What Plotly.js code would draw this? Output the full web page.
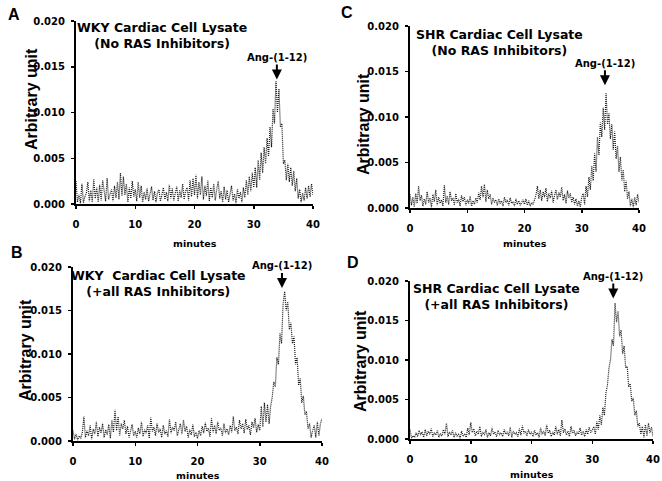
<!DOCTYPE html>
<html>
<head>
<meta charset="utf-8">
<script src="https://cdn.plot.ly/plotly-3.0.1.min.js"></script>
<style>html,body{margin:0;padding:0;background:#fff;}#chart{width:662px;height:481px;}</style>
</head>
<body>
<div id="chart"></div>
<script>
// Sampling times (minutes)
const minutes = [0,
0.25,0.5,0.75,1,1.25,1.5,1.75,2,2.25,2.5,2.75,3,3.25,3.5,3.75,4,4.25,4.5,4.75,5,
5.25,5.5,5.75,6,6.25,6.5,6.75,7,7.25,7.5,7.75,8,8.25,8.5,8.75,9,9.25,9.5,9.75,10,
10.25,10.5,10.75,11,11.25,11.5,11.75,12,12.25,12.5,12.75,13,13.25,13.5,13.75,14,14.25,14.5,14.75,15,
15.25,15.5,15.75,16,16.25,16.5,16.75,17,17.25,17.5,17.75,18,18.25,18.5,18.75,19,19.25,19.5,19.75,20,
20.25,20.5,20.75,21,21.25,21.5,21.75,22,22.25,22.5,22.75,23,23.25,23.5,23.75,24,24.25,24.5,24.75,25,
25.25,25.5,25.75,26,26.25,26.5,26.75,27,27.25,27.5,27.75,28,28.25,28.5,28.75,29,29.25,29.5,29.75,30,
30.25,30.5,30.75,31,31.25,31.5,31.75,32,32.25,32.5,32.75,33,33.25,33.5,33.75,34,34.25,34.5,34.75,35,
35.25,35.5,35.75,36,36.25,36.5,36.75,37,37.25,37.5,37.75,38,38.25,38.5,38.75,39,39.25,39.5,39.75,40];

// A: WKY, no RAS inhibitors
const wkyNoInhib = [0.0025,
0.0002,0.0010,0.0001,0.0022,0.0001,0.0008,0.0012,0.0024,0.0003,0.0015,0.0002,0.0027,0.0006,0.0018,0.0002,0.0021,0.0004,0.0026,0.0012,0.0003,
0.0028,0.0005,0.0011,0.0016,0.0003,0.0020,0.0007,0.0024,0.0005,0.0034,0.0009,0.0030,0.0010,0.0022,0.0002,0.0018,0.0006,0.0025,0.0008,0.0016,
0.0003,0.0024,0.0007,0.0020,0.0002,0.0013,0.0005,0.0017,0.0003,0.0011,0.0019,0.0004,0.0014,0.0002,0.0012,0.0016,0.0003,0.0010,0.0018,0.0005,
0.0013,0.0003,0.0021,0.0006,0.0017,0.0004,0.0012,0.0019,0.0003,0.0015,0.0007,0.0022,0.0005,0.0014,0.0018,0.0004,0.0026,0.0008,0.0028,0.0010,
0.0032,0.0006,0.0024,0.0010,0.0030,0.0005,0.0020,0.0009,0.0026,0.0003,0.0018,0.0007,0.0022,0.0004,0.0016,0.0025,0.0006,0.0014,0.0002,0.0019,
0.0005,0.0015,0.0002,0.0012,0.0020,0.0004,0.0011,0.0001,0.0016,0.0006,0.0013,0.0002,0.0018,0.0007,0.0026,0.0010,0.0030,0.0014,0.0034,0.0018,
0.0040,0.0018,0.0048,0.0026,0.0056,0.0034,0.0062,0.0044,0.0072,0.0052,0.0084,0.0062,0.0104,0.0088,0.0134,0.0100,0.0126,0.0084,0.0088,0.0044,
0.0048,0.0026,0.0044,0.0024,0.0040,0.0020,0.0036,0.0014,0.0028,0.0006,0.0016,0.0002,0.0012,0.0004,0.0018,0.0006,0.0020,0.0008,0.0022,0.0010];

// C: SHR, no RAS inhibitors
const shrNoInhib = [0.0015,
0.0003,0.0012,0.0001,0.0016,0.0005,0.0024,0.0008,0.0014,0.0002,0.0010,0.0004,0.0018,0.0006,0.0011,0.0001,0.0015,0.0007,0.0020,0.0003,0.0012,
0.0005,0.0009,0.0002,0.0025,0.0006,0.0013,0.0004,0.0018,0.0008,0.0011,0.0003,0.0016,0.0006,0.0010,0.0002,0.0014,0.0007,0.0012,0.0003,0.0009,
0.0005,0.0013,0.0002,0.0008,0.0004,0.0011,0.0006,0.0017,0.0009,0.0024,0.0012,0.0026,0.0007,0.0020,0.0010,0.0015,0.0004,0.0011,0.0006,0.0009,
0.0003,0.0010,0.0005,0.0008,0.0002,0.0012,0.0006,0.0009,0.0003,0.0011,0.0005,0.0007,0.0002,0.0010,0.0004,0.0008,0.0003,0.0006,0.0009,0.0004,
0.0010,0.0003,0.0008,0.0002,0.0006,0.0004,0.0009,0.0014,0.0024,0.0010,0.0020,0.0008,0.0018,0.0012,0.0022,0.0007,0.0016,0.0011,0.0019,0.0006,
0.0014,0.0020,0.0009,0.0017,0.0012,0.0023,0.0008,0.0015,0.0005,0.0019,0.0011,0.0016,0.0006,0.0012,0.0004,0.0010,0.0002,0.0008,0.0001,0.0012,
0.0016,0.0004,0.0024,0.0012,0.0034,0.0020,0.0046,0.0030,0.0060,0.0040,0.0078,0.0058,0.0094,0.0078,0.0110,0.0086,0.0126,0.0092,0.0104,0.0076,
0.0092,0.0064,0.0084,0.0054,0.0068,0.0040,0.0056,0.0030,0.0042,0.0018,0.0030,0.0010,0.0018,0.0002,0.0010,0.0001,0.0012,0.0003,0.0015,0.0006];

// B: WKY, + all RAS inhibitors
const wkyAllInhib = [0.0012,
0.0002,0.0008,0.0001,0.0006,0.0003,0.0010,0.0028,0.0004,0.0012,0.0006,0.0018,0.0002,0.0014,0.0008,0.0022,0.0005,0.0016,0.0009,0.0020,0.0004,
0.0013,0.0007,0.0019,0.0003,0.0024,0.0010,0.0036,0.0012,0.0028,0.0006,0.0020,0.0014,0.0024,0.0008,0.0017,0.0004,0.0012,0.0019,0.0006,0.0011,
0.0004,0.0015,0.0008,0.0022,0.0005,0.0013,0.0009,0.0018,0.0003,0.0027,0.0011,0.0016,0.0006,0.0020,0.0010,0.0014,0.0004,0.0018,0.0008,0.0012,
0.0005,0.0025,0.0009,0.0016,0.0012,0.0022,0.0006,0.0014,0.0020,0.0008,0.0024,0.0011,0.0017,0.0004,0.0013,0.0007,0.0019,0.0005,0.0010,0.0003,
0.0012,0.0006,0.0017,0.0009,0.0021,0.0011,0.0015,0.0005,0.0026,0.0010,0.0018,0.0008,0.0022,0.0012,0.0015,0.0006,0.0020,0.0009,0.0014,0.0007,
0.0018,0.0010,0.0028,0.0012,0.0016,0.0008,0.0024,0.0014,0.0020,0.0009,0.0025,0.0013,0.0018,0.0007,0.0022,0.0015,0.0026,0.0010,0.0019,0.0012,
0.0040,0.0016,0.0044,0.0022,0.0042,0.0020,0.0040,0.0050,0.0068,0.0062,0.0096,0.0088,0.0124,0.0112,0.0158,0.0172,0.0150,0.0160,0.0128,0.0136,
0.0112,0.0120,0.0088,0.0096,0.0064,0.0072,0.0044,0.0052,0.0030,0.0034,0.0014,0.0020,0.0004,0.0012,0.0018,0.0004,0.0022,0.0006,0.0020,0.0026];

// D: SHR, + all RAS inhibitors
const shrAllInhib = [0.0012,
0.0001,0.0004,0.0002,0.0008,0.0003,0.0011,0.0005,0.0009,0.0002,0.0012,0.0004,0.0010,0.0006,0.0013,0.0003,0.0008,0.0005,0.0011,0.0002,0.0007,
0.0004,0.0012,0.0006,0.0020,0.0003,0.0009,0.0005,0.0011,0.0002,0.0008,0.0004,0.0006,0.0001,0.0010,0.0003,0.0007,0.0002,0.0014,0.0005,0.0021,
0.0008,0.0013,0.0004,0.0010,0.0006,0.0016,0.0003,0.0009,0.0005,0.0012,0.0002,0.0008,0.0004,0.0014,0.0006,0.0009,0.0003,0.0011,0.0005,0.0008,
0.0003,0.0012,0.0006,0.0009,0.0004,0.0015,0.0002,0.0010,0.0006,0.0008,0.0003,0.0013,0.0005,0.0017,0.0007,0.0010,0.0004,0.0012,0.0006,0.0009,
0.0003,0.0011,0.0005,0.0008,0.0002,0.0014,0.0006,0.0010,0.0004,0.0018,0.0007,0.0011,0.0003,0.0009,0.0005,0.0016,0.0006,0.0012,0.0004,0.0024,
0.0008,0.0013,0.0005,0.0010,0.0003,0.0016,0.0007,0.0011,0.0004,0.0009,0.0006,0.0014,0.0005,0.0010,0.0003,0.0012,0.0006,0.0015,0.0008,0.0011,
0.0016,0.0006,0.0022,0.0012,0.0030,0.0018,0.0040,0.0030,0.0058,0.0068,0.0090,0.0100,0.0126,0.0118,0.0172,0.0148,0.0162,0.0130,0.0138,0.0108,
0.0118,0.0090,0.0092,0.0066,0.0070,0.0048,0.0052,0.0030,0.0036,0.0016,0.0020,0.0006,0.0016,0.0002,0.0018,0.0004,0.0020,0.0008,0.0015,0.0003];

const xTicks = [0, 10, 20, 30, 40];
const yTicks = [0, 0.005, 0.010, 0.015, 0.020];
const xTitle = 'minutes';
const yTitle = 'Arbitrary unit';
const panelLetters = ['A', 'C', 'B', 'D'];
const panelTitles = [
  'WKY Cardiac Cell Lysate<br>(No RAS Inhibitors)',
  'SHR Cardiac Cell Lysate<br>(No RAS Inhibitors)',
  'WKY  Cardiac Cell Lysate<br>(+all RAS Inhibitors)',
  'SHR Cardiac Cell Lysate<br>(+all RAS Inhibitors)'
];
const peakLabel = 'Ang-(1-12)';
const peakPos = [[33.9, 0.0136], [34.05, 0.0135], [33.57, 0.0176], [33.46, 0.0178]];
const series = [wkyNoInhib, shrNoInhib, wkyAllInhib, shrAllInhib];

// layout geometry (pixels in a 662x481 canvas)
const W = 662, H = 481;
const boxes = [ // [left, right, top, bottom]
  [76, 313, 21, 204],
  [410, 639, 26, 208],
  [73, 322, 267, 441],
  [410, 653, 281, 439]
];
const letterPos = [[14, 14], [347, 13], [17, 252], [353, 262]];
const titlePos = [[162, 35], [499, 42], [158, 283], [496, 296]];
const yTitlePos = [[31, 99], [363, 124], [25, 350], [360, 361]];
const xTitleY = [243, 243, 475, 474];

const B = s => '<b>' + s + '</b>';
const tickFont = {family: 'DejaVu Sans', size: 10, color: '#000'};
const traces = [];
const layout = {
  width: W, height: H,
  margin: {l: 0, r: 0, t: 0, b: 0},
  paper_bgcolor: '#fff', plot_bgcolor: '#fff',
  showlegend: false,
  annotations: []
};
const px = v => v / W, py = v => 1 - v / H;

series.forEach((ys, i) => {
  const n = i + 1;
  const xa = n === 1 ? 'x' : 'x' + n, ya = n === 1 ? 'y' : 'y' + n;
  traces.push({
    x: minutes, y: ys, xaxis: xa, yaxis: ya, type: 'scatter', mode: 'lines',
    line: {color: '#1a1a1a', width: 1.2, dash: '1px,1px'}, hoverinfo: 'skip'
  });
  const b = boxes[i];
  layout['xaxis' + (n === 1 ? '' : n)] = {
    domain: [px(b[0]), px(b[1])], anchor: ya, range: [0, 40],
    tickvals: xTicks, ticktext: xTicks.map(v => B(String(v))),
    showgrid: false, zeroline: false, showline: true, linecolor: '#000', linewidth: 2,
    ticks: 'outside', ticklen: 3, tickwidth: 1.5, tickcolor: '#000',
    tickfont: tickFont, ticklabelstandoff: 7
  };
  layout['yaxis' + (n === 1 ? '' : n)] = {
    domain: [py(b[3]), py(b[2])], anchor: xa, range: [0, 0.020],
    tickvals: yTicks, ticktext: yTicks.map(v => B(v.toFixed(3))),
    showgrid: false, zeroline: false, showline: true, linecolor: '#000', linewidth: 2,
    ticks: 'outside', ticklen: 3, tickwidth: 1.5, tickcolor: '#000',
    tickfont: tickFont, ticklabelstandoff: 4
  };
  const A = layout.annotations;
  A.push({xref: 'paper', yref: 'paper', x: px(letterPos[i][0]), y: py(letterPos[i][1]),
    xanchor: 'center', yanchor: 'middle', showarrow: false, text: B(panelLetters[i]),
    font: {family: 'Liberation Sans, Arial', size: 16, color: '#000'}});
  A.push({xref: 'paper', yref: 'paper', x: px(titlePos[i][0]), y: py(titlePos[i][1]),
    xanchor: 'center', yanchor: 'middle', showarrow: false, text: B(panelTitles[i]),
    font: {family: 'DejaVu Sans', size: 12.5, color: '#000'}});
  A.push({xref: 'paper', yref: 'paper', x: px(yTitlePos[i][0]), y: py(yTitlePos[i][1]),
    xanchor: 'center', yanchor: 'middle', showarrow: false, text: B(yTitle), textangle: -90,
    font: {family: 'Liberation Sans, Arial', size: 16, color: '#000'}});
  A.push({xref: 'paper', yref: 'paper', x: px((b[0] + b[1]) / 2), y: py(xTitleY[i]),
    xanchor: 'center', yanchor: 'middle', showarrow: false, text: B(xTitle),
    font: {family: 'DejaVu Sans', size: 9.5, color: '#000'}});
  A.push({xref: xa, yref: ya, x: peakPos[i][0], y: peakPos[i][1],
    text: B(peakLabel), showarrow: true, arrowhead: 2, arrowsize: 1, arrowwidth: 2,
    arrowcolor: '#000', ax: 0, ay: -22,
    font: {family: 'DejaVu Sans', size: 10, color: '#000'}});
});

Plotly.newPlot('chart', traces, layout, {staticPlot: true, displayModeBar: false});
</script>
</body>
</html>
